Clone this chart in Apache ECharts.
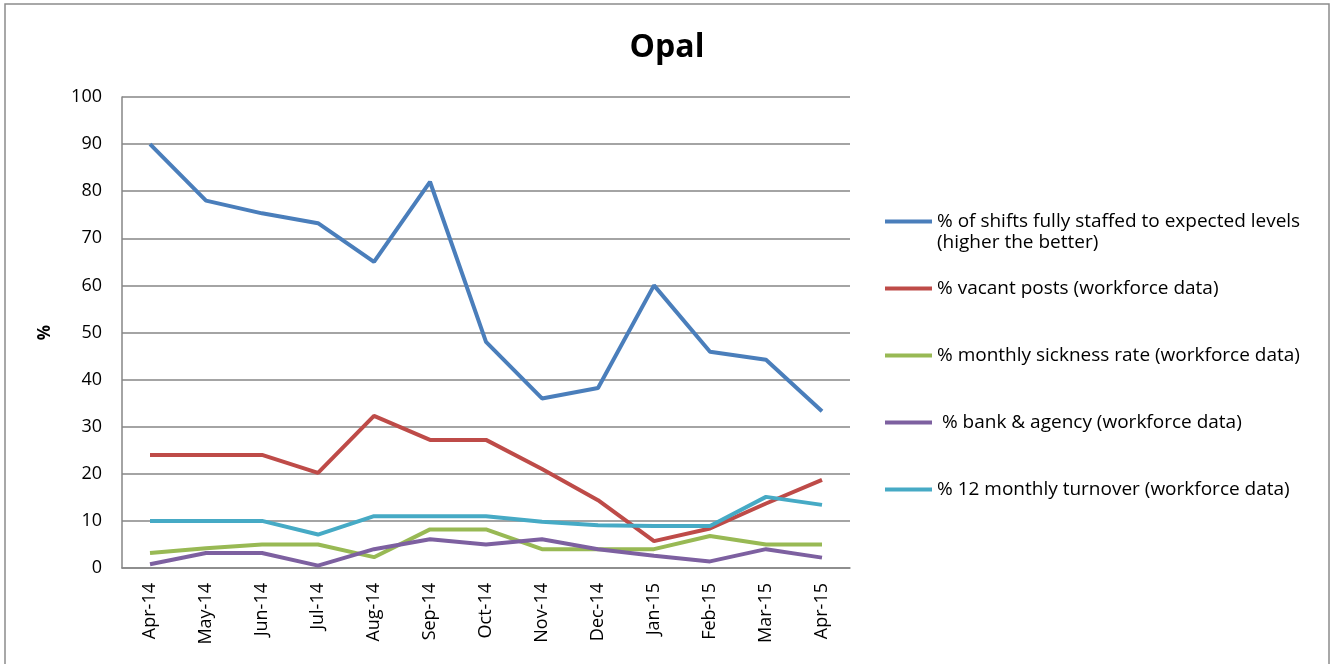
<!DOCTYPE html>
<html>
<head>
<meta charset="utf-8">
<script src="https://cdn.jsdelivr.net/npm/echarts@6/dist/echarts.min.js"></script>
<style>
html, body { margin: 0; padding: 0; background: #fff; }
#chart { width: 1334px; height: 664px; }
</style>
</head>
<body>
<div id="chart"></div>
<script type="text/javascript">
// categories and values
var months = ['Apr-14', 'May-14', 'Jun-14', 'Jul-14', 'Aug-14', 'Sep-14', 'Oct-14',
  'Nov-14', 'Dec-14', 'Jan-15', 'Feb-15', 'Mar-15', 'Apr-15'];
var shiftsStaffed = [90, 78, 75.3, 73.2, 65, 82, 48, 36, 38.2, 60, 45.9, 44.2, 33.3];
var vacantPosts = [24, 24, 24, 20.2, 32.3, 27.2, 27.2, 21, 14.4, 5.7, 8.4, 13.7, 18.7];
var sickness = [3.2, 4.2, 5, 5, 2.3, 8.2, 8.2, 4, 4, 4, 6.8, 5, 5];
var bankAgency = [0.8, 3.2, 3.2, 0.5, 4, 6.1, 5, 6.1, 4, 2.6, 1.4, 4, 2.2];
var turnover = [10, 10, 10, 7.1, 11, 11, 11, 9.8, 9.1, 8.9, 8.9, 15.1, 13.4];
var yTicks = [0, 10, 20, 30, 40, 50, 60, 70, 80, 90, 100];

var names = [
  '% of shifts fully staffed to expected levels\n(higher the better)',
  '% vacant posts (workforce data)',
  '% monthly sickness rate (workforce data)',
  ' % bank & agency (workforce data)',
  '% 12 monthly turnover (workforce data)'
];
var colors = ['#4a7ebb', '#be4b48', '#98b954', '#7d60a0', '#46aac5'];
var values = [shiftsStaffed, vacantPosts, sickness, bankAgency, turnover];

var font = 'Open Sans';
var chart = echarts.init(document.getElementById('chart'));

// one legend block per series so the gaps match the original
var legendY = [222, 289, 356, 423, 490];
var legends = [];
var series = [];
for (var i = 0; i < names.length; i++) {
  legends.push({
    data: [names[i]],
    left: 885,
    top: legendY[i] - 10,
    padding: 0,
    itemWidth: 47,
    itemHeight: 20,
    itemGap: 4,
    icon: 'path://M0,0 L47,0 L47,4 L0,4 Z',
    // the second line of the first name is drawn as a graphic below
    formatter: function (n) { return n.split('\n')[0]; },
    textStyle: { fontFamily: font, fontSize: 19, color: '#000' }
  });
  series.push({
    name: names[i],
    type: 'line',
    data: values[i],
    symbol: 'none',
    lineStyle: { color: colors[i], width: 4 },
    itemStyle: { color: colors[i] }
  });
}

var option = {
  animation: false,
  backgroundColor: '#fff',
  title: {
    text: 'Opal',
    left: 'center',
    top: 27,
    textStyle: { fontFamily: font, fontSize: 32, fontWeight: 'bold', color: '#000' }
  },
  legend: legends,
  grid: { left: 122, right: 484, top: 97, bottom: 96 },
  xAxis: {
    type: 'category',
    data: months,
    boundaryGap: true,
    axisLine: { lineStyle: { color: '#868686', width: 1.5 } },
    axisTick: { show: false },
    axisLabel: {
      rotate: 90,
      interval: 0,
      margin: 15,
      fontFamily: font,
      fontSize: 18,
      color: '#000'
    }
  },
  yAxis: {
    type: 'value',
    min: 0,
    max: 100,
    interval: 10,
    name: '%',
    nameLocation: 'middle',
    nameGap: 68,
    nameRotate: 90,
    nameTextStyle: { fontFamily: font, fontSize: 17, fontWeight: 'bold', color: '#000' },
    axisLine: { show: true, lineStyle: { color: '#868686', width: 1.5 } },
    axisTick: { show: false },
    splitLine: { lineStyle: { color: '#868686', width: 1.5 } },
    axisLabel: {
      margin: 20,
      fontFamily: font,
      fontSize: 18,
      color: '#000',
      formatter: function (v) { return yTicks.indexOf(v) >= 0 ? String(v) : ''; }
    }
  },
  graphic: [{
    type: 'rect',
    shape: { x: 5, y: 4, width: 1324, height: 700 },
    style: { fill: 'none', stroke: '#8c8c8c', lineWidth: 1.5 },
    silent: true
  }, {
    type: 'text',
    left: 937,
    top: 233,
    style: { text: '(higher the better)', font: '19px "Open Sans"', fill: '#000' },
    silent: true
  }],
  series: series
};
chart.setOption(option);
</script>
</body>
</html>
